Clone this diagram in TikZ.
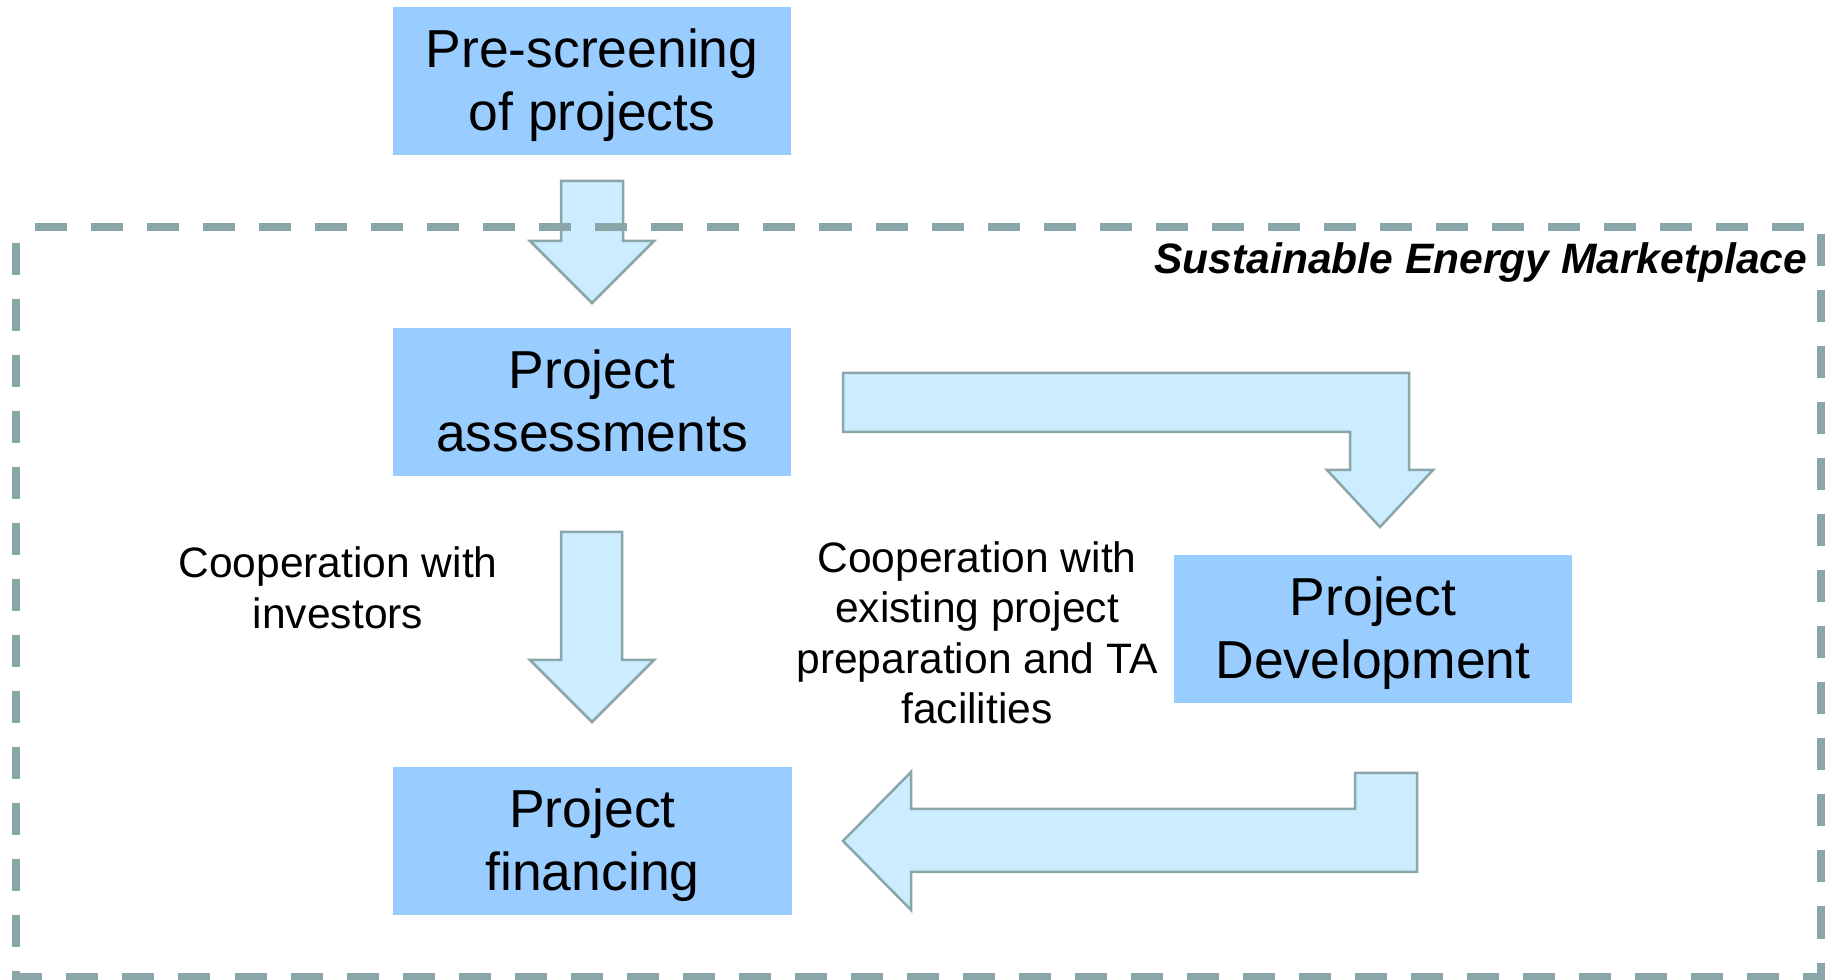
\documentclass[tikz,border=0pt]{standalone}
\usepackage{fontspec}
\setmainfont{Liberation Sans}
\definecolor{boxfill}{HTML}{99CCFF}
\definecolor{arrfill}{HTML}{CCECFF}
\definecolor{arrline}{HTML}{8AA6A9}
\definecolor{frameline}{HTML}{8BA6A8}
\newcommand\bigstrut{\rule[-0.12cm]{0pt}{0.60cm}}
\newcommand\smallstrut{\rule[-0.10cm]{0pt}{0.50cm}}
\tikzset{
  stepbox/.style={fill=boxfill, draw=none, minimum width=3.98cm, minimum height=1.48cm, inner sep=0pt, align=center,
    font=\fontsize{15.2pt}{17.9pt}\selectfont},
  note/.style={align=center, inner sep=0pt, font=\fontsize{12.1pt}{14.23pt}\selectfont},
  blockarrow/.style={fill=arrfill, draw=arrline, line width=0.025cm, line join=miter},
  framebox/.style={draw=frameline, line width=0.08cm, dash pattern=on 0.32cm off 0.24cm, dash phase=0.37cm}
}
\begin{document}
\begin{tikzpicture}[x=0.01cm, y=-0.01cm]
\useasboundingbox (0,0) rectangle (1839,980);
% boxes
\node[stepbox] (pre) at (592,81) {\bigstrut Pre-screening\\\bigstrut of projects};
\node[stepbox] (assess) at (592,402) {\bigstrut Project\\\bigstrut assessments};
\node[stepbox] (fin) at (592.5,841) {\bigstrut Project\\\bigstrut financing};
\node[stepbox] (dev) at (1373,629) {\bigstrut Project\\\bigstrut Development};
% block arrows
\draw[blockarrow] (561,181) -- (623,181) -- (623,241) -- (654,241) -- (592,303) -- (530,241) -- (561,241) -- cycle;
\draw[blockarrow] (561,532) -- (622,532) -- (622,660) -- (654,660) -- (592,722) -- (530,660) -- (561,660) -- cycle;
\draw[blockarrow] (843,373) -- (1409,373) -- (1409,470) -- (1433,470) -- (1380,527) -- (1327,470) -- (1350,470) -- (1350,432) -- (843,432) -- cycle;
\draw[blockarrow] (1417,773) -- (1417,872) -- (911,872) -- (911,910) -- (843,841) -- (911,772) -- (911,809) -- (1355,809) -- (1355,773) -- cycle;
% labels
\node[note] (inv) at (338,588) {\smallstrut Cooperation with\\\smallstrut investors};
\node[note] (fac) at (977,633) {\smallstrut Cooperation with\\\smallstrut existing project\\\smallstrut preparation and TA\\\smallstrut facilities};
% frame
\draw[framebox] (16,227) -- (1821,227) -- (1821,977) -- (16,977) -- cycle;
\node[anchor=base east, inner sep=0pt, font=\fontsize{12.1pt}{14.23pt}\selectfont\bfseries\itshape] (title) at (1808,274) {Sustainable Energy Marketplace};
\end{tikzpicture}
\end{document}
